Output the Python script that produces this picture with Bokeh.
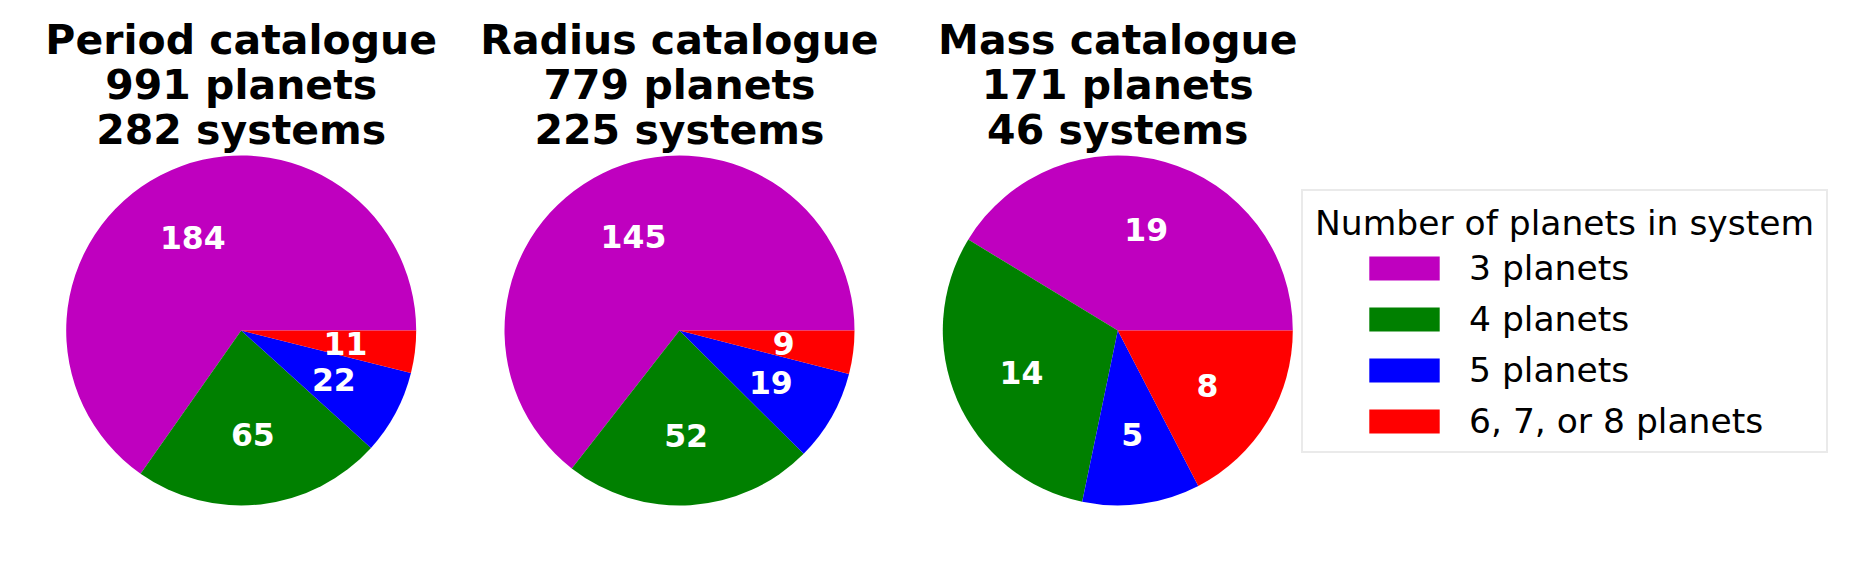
import math
from bokeh.plotting import figure
from bokeh.models import Range1d, Legend, LegendItem, ColumnDataSource
from bokeh.core.properties import value
from bokeh.embed import file_html
from bokeh.resources import INLINE

# ---------------- data ----------------
catalogues = ["Period catalogue", "Radius catalogue", "Mass catalogue"]
n_planets = [991, 779, 171]
n_systems = [282, 225, 46]
categories = ["3 planets", "4 planets", "5 planets", "6, 7, or 8 planets"]
period_counts = [184, 65, 22, 11]
radius_counts = [145, 52, 19, 9]
mass_counts = [19, 14, 5, 8]
colors = ["#bf00bf", "#008000", "#0000ff", "#ff0000"]
legend_title = "Number of planets in system"

counts = [period_counts, radius_counts, mass_counts]

# ---------------- layout ----------------
W, H = 1835, 556
R = 175.0
CX0, STEP = 240.7, 438.3
CY = 226.0
TITLE_Y = [516.5, 471.5, 426.5]
FONT = "DejaVu Sans"

p = figure(width=W, height=H, output_backend="svg", toolbar_location=None,
           x_axis_type=None, y_axis_type=None, min_border=0,
           x_range=Range1d(0, W), y_range=Range1d(0, H))
p.outline_line_color = None
p.background_fill_color = "white"
p.border_fill_color = "white"

# wedges, one renderer per category (for the legend)
renderers = []
lab_x, lab_y, lab_t = [], [], []
for ci, cname in enumerate(categories):
    xs, ys, sa, ea = [], [], [], []
    for k, cnt in enumerate(counts):
        tot = float(sum(cnt))
        a0 = 2 * math.pi * sum(cnt[:ci]) / tot
        a1 = 2 * math.pi * sum(cnt[:ci + 1]) / tot
        cx = CX0 + k * STEP
        xs.append(cx); ys.append(CY); sa.append(a0); ea.append(a1)
        mid = 0.5 * (a0 + a1)
        lab_x.append(cx + 0.6 * R * math.cos(mid))
        lab_y.append(CY + 0.6 * R * math.sin(mid))
        lab_t.append(str(cnt[ci]))
    src = ColumnDataSource(dict(x=xs, y=ys, sa=sa, ea=ea))
    r = p.wedge(x="x", y="y", radius=R, start_angle="sa", end_angle="ea",
                source=src, fill_color=colors[ci], line_color=None)
    renderers.append(r)

# value labels
p.text(x=lab_x, y=lab_y, text=lab_t, text_color="white",
       text_font=value(FONT), text_font_style="bold", text_font_size="31.5px",
       text_align="center", text_baseline="middle")

# titles
tx, ty, tt = [], [], []
for k in range(3):
    lines = [catalogues[k], f"{n_planets[k]} planets", f"{n_systems[k]} systems"]
    for j, line in enumerate(lines):
        tx.append(CX0 + k * STEP); ty.append(TITLE_Y[j]); tt.append(line)
p.text(x=tx, y=ty, text=tt, text_color="black", text_font=value(FONT),
       text_font_style="bold", text_font_size="41px",
       text_align="center", text_baseline="alphabetic")

# legend box (title + frame)
dummy = p.wedge(x=[], y=[], radius=1, start_angle=0, end_angle=1,
                fill_alpha=0, line_alpha=0)
legA = Legend(items=[LegendItem(label=" ", renderers=[dummy])],
              title=legend_title, location=(1301, 103),
              title_text_font=FONT, title_text_font_style="normal",
              title_text_font_size="34.5px", title_text_color="black",
              title_standoff=5, padding=12,
              glyph_height=191, glyph_width=10, label_height=10,
              label_text_font_size="10px",
              border_line_color="#d6d6d6", border_line_width=2.5,
              background_fill_color="white", background_fill_alpha=1.0)
p.add_layout(legA)

# legend entries
legB = Legend(items=[LegendItem(label=categories[i], renderers=[renderers[i]])
                     for i in range(4)],
              location=(1360, 115), padding=0, spacing=11,
              glyph_width=88, glyph_height=30, label_standoff=21,
              label_text_font=FONT, label_text_font_size="34.5px",
              label_text_color="black",
              border_line_color=None, background_fill_alpha=0.0)
p.add_layout(legB)

open("out.html", "w").write(file_html(p, INLINE))
